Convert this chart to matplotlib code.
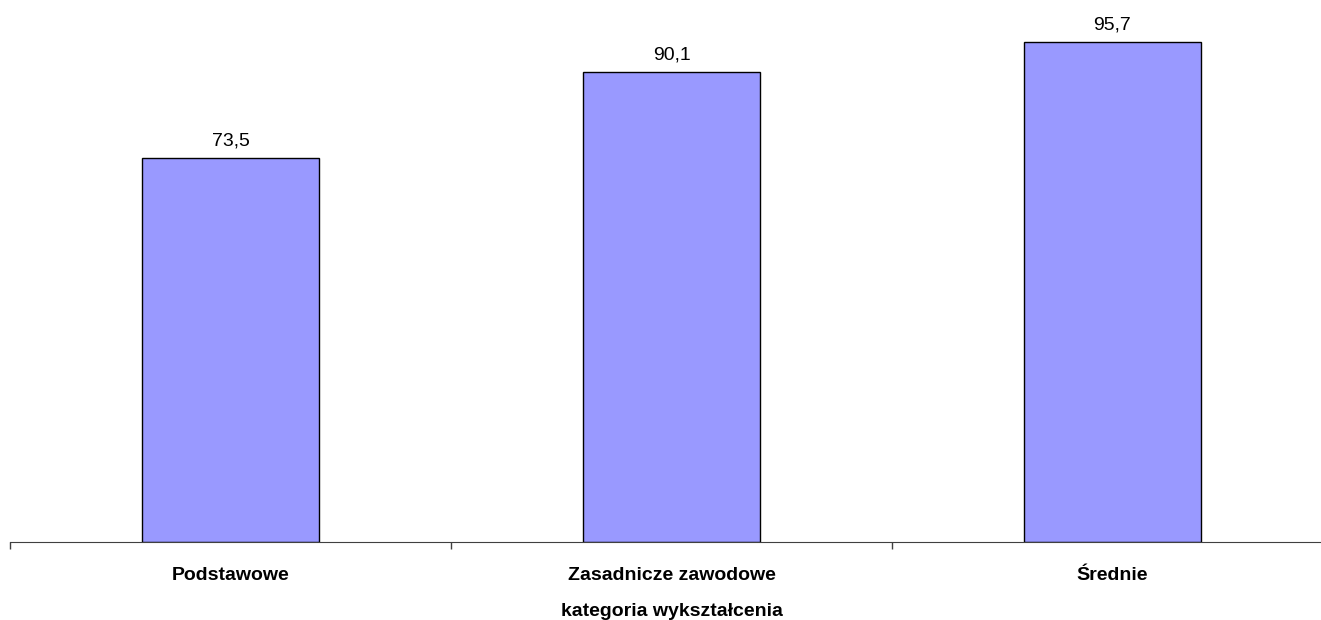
import numpy as np
import matplotlib.pyplot as plt

categories = ["Podstawowe", "Zasadnicze zawodowe", "Średnie"]
values = [73.5, 90.1, 95.7]
value_labels = ["73,5", "90,1", "95,7"]

plt.rcParams["font.family"] = ["Liberation Sans", "DejaVu Sans"]

fig = plt.figure(figsize=(13.21, 6.20), dpi=100)
# plot area runs a little past the right edge of the picture, as in the original
ax = fig.add_axes([10 / 1321, 1 - 542 / 620, 1323 / 1321, 542 / 620])

x = np.arange(len(categories))
bars = ax.bar(x, values, width=0.4, color="#9999FF", edgecolor="black", linewidth=1)

for rect, lab in zip(bars, value_labels):
    ax.annotate(lab, (rect.get_x() + rect.get_width() / 2, rect.get_height()),
                xytext=(0, 6), textcoords="offset points",
                ha="center", va="bottom", fontsize=14)

ax.set_xlim(-0.5, len(categories) - 0.5)
ax.set_ylim(0, 103.8)

for side in ["top", "right", "left"]:
    ax.spines[side].set_visible(False)
ax.spines["bottom"].set_color("#404040")
ax.set_yticks([])

ax.set_xticks(x)
ax.set_xticklabels(categories, fontsize=14, fontweight="bold")
ax.tick_params(axis="x", which="major", length=0, pad=18)
ax.set_xticks(np.arange(-0.5, len(categories)), minor=True)
ax.tick_params(axis="x", which="minor", length=5, color="#404040", width=1)

# the original clips this label at the bottom edge; keep it just inside
ax.set_xlabel("kategoria wykształcenia", fontsize=14, fontweight="bold", labelpad=13.5)

fig.savefig("out.png", dpi=100)
